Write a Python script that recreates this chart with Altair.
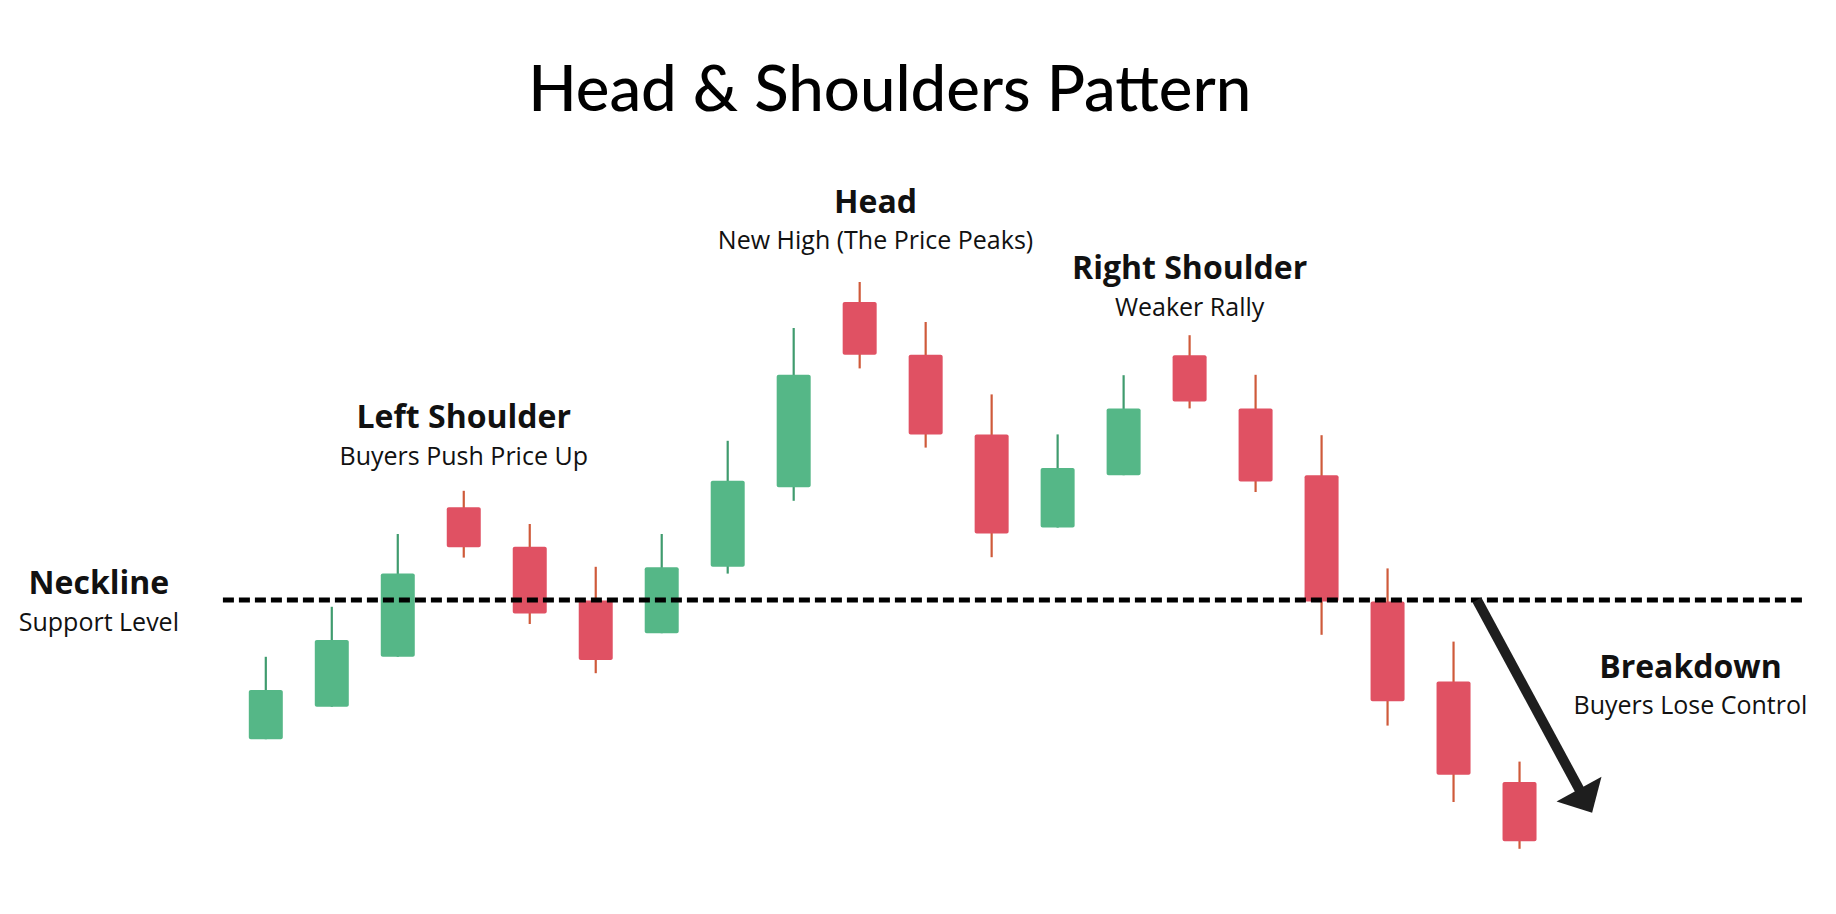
import altair as alt
import pandas as pd

# ---- candle data (index, open, close, high, low) ----
idx = list(range(1, 21))
open_ = [65.2, 73.3, 85.8, 123.2, 113.3, 99.9, 91.7, 108.3, 128.2, 174.5,
         161.3, 141.4, 118.1, 131.2, 161.2, 147.9, 131.2, 99.6, 79.6, 54.5]
close = [77.5, 90.0, 106.6, 113.2, 96.6, 85.0, 108.2, 129.8, 156.3, 161.3,
         141.4, 116.6, 133.0, 147.9, 149.6, 129.6, 99.6, 74.7, 56.3, 39.7]
high = [85.8, 98.3, 116.5, 127.3, 119.0, 108.3, 116.5, 139.8, 168.0, 179.5,
        169.5, 151.4, 141.4, 156.2, 166.2, 156.3, 141.2, 107.9, 89.6, 59.6]
low = [65.2, 73.3, 85.8, 110.6, 94.0, 81.7, 91.7, 106.6, 124.8, 157.9,
       138.1, 110.7, 118.1, 131.2, 147.9, 127.0, 91.3, 68.6, 49.5, 37.8]

# neckline
neck_level = 100.0
neck_start = 0.35
neck_end = 24.28

# breakdown arrow (start on neckline, end point)
arrow_x = [19.355, 20.996]
arrow_y = [100.0, 49.9]

# annotations
title_text = "Head & Shoulders Pattern"
title_pos = (10.455, 222.3)
head_labels = ["Head", "Right Shoulder", "Left Shoulder", "Neckline", "Breakdown"]
head_x = [10.24, 15.0, 4.0, -1.53, 22.59]
head_y = [196.7, 180.2, 142.9, 101.4, 80.6]
sub_labels = ["New High (The Price Peaks)", "Weaker Rally", "Buyers Push Price Up",
              "Support Level", "Buyers Lose Control"]
sub_y = [187.7, 171.1, 133.7, 92.3, 71.5]

TITLE_FONT = "Lato"
FONT = "Open Sans"
x_scale = alt.Scale(domain=[-2.8312, 24.599], nice=False, zero=False)
y_scale = alt.Scale(domain=[28, 248], nice=False, zero=False)

candles = pd.DataFrame({"i": idx, "open": open_, "close": close, "high": high, "low": low})
up = alt.datum.close > alt.datum.open

X = alt.X("i:Q", scale=x_scale, axis=None)

wicks = alt.Chart(candles).mark_rule(strokeWidth=2.2).encode(
    x=X,
    y=alt.Y("low:Q", scale=y_scale, axis=None),
    y2="high:Q",
    color=alt.condition(up, alt.value("#3f9b6e"), alt.value("#cf5a3a")),
)

bodies = alt.Chart(candles).mark_bar(size=34, cornerRadius=2).encode(
    x=X,
    y=alt.Y("open:Q", scale=y_scale, axis=None),
    y2="close:Q",
    color=alt.condition(up, alt.value("#55b787"), alt.value("#e05163")),
)

neck_df = pd.DataFrame({"x0": [neck_start], "x1": [neck_end], "y": [neck_level]})
neckline = alt.Chart(neck_df).mark_rule(strokeDash=[11, 5], strokeWidth=5, color="#000000").encode(
    x=alt.X("x0:Q", scale=x_scale, axis=None),
    x2="x1:Q",
    y=alt.Y("y:Q", scale=y_scale, axis=None),
)

arrow_df = pd.DataFrame({"x0": [arrow_x[0]], "x1": [arrow_x[1]], "y0": [arrow_y[0]], "y1": [arrow_y[1]]})
shaft = alt.Chart(arrow_df).mark_rule(strokeWidth=10, color="#1e1e1e", strokeCap="butt").encode(
    x=alt.X("x0:Q", scale=x_scale, axis=None),
    x2="x1:Q",
    y=alt.Y("y0:Q", scale=y_scale, axis=None),
    y2="y1:Q",
)
head = alt.Chart(arrow_df).mark_point(
    shape="M-1,-0.5L1,-0.5L0,0.55Z", size=2642, angle=331, filled=True,
    color="#1e1e1e", opacity=1, strokeWidth=0,
).encode(
    x=alt.X("x1:Q", scale=x_scale, axis=None),
    y=alt.Y("y1:Q", scale=y_scale, axis=None),
)

title_df = pd.DataFrame({"t": [title_text], "x": [title_pos[0]], "y": [title_pos[1]]})
title = alt.Chart(title_df).mark_text(
    font=TITLE_FONT, fontSize=63.5, fontWeight=500, color="#000000", align="center", baseline="alphabetic"
).encode(
    x=alt.X("x:Q", scale=x_scale, axis=None),
    y=alt.Y("y:Q", scale=y_scale, axis=None),
    text="t:N",
)

lab_df = pd.DataFrame({"t": head_labels, "x": head_x, "y": head_y})
labels = alt.Chart(lab_df).mark_text(
    font=FONT, fontSize=32, fontWeight=700, color="#111111", align="center", baseline="alphabetic"
).encode(
    x=alt.X("x:Q", scale=x_scale, axis=None),
    y=alt.Y("y:Q", scale=y_scale, axis=None),
    text="t:N",
)

sub_df = pd.DataFrame({"t": sub_labels, "x": head_x, "y": sub_y})
subs = alt.Chart(sub_df).mark_text(
    font=FONT, fontSize=25, fontWeight=400, color="#111111", align="center", baseline="alphabetic"
).encode(
    x=alt.X("x:Q", scale=x_scale, axis=None),
    y=alt.Y("y:Q", scale=y_scale, axis=None),
    text="t:N",
)

chart = alt.layer(wicks, bodies, neckline, shaft, head, title, labels, subs).properties(
    width=1820, height=880, padding=0, background="#ffffff"
).configure_view(stroke=None)

chart.save("out.html", embed_options={"renderer": "svg", "actions": False})
